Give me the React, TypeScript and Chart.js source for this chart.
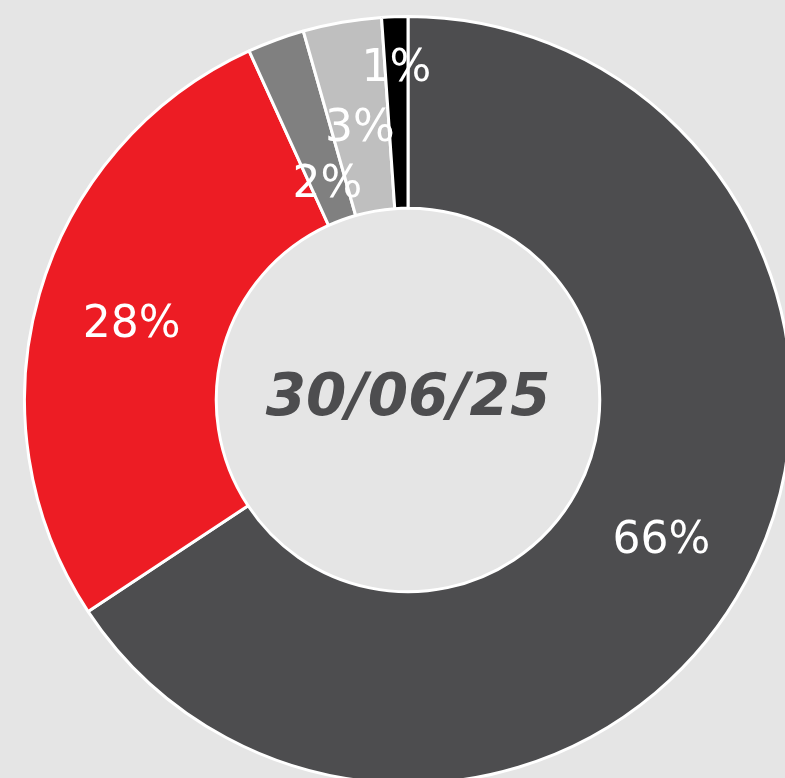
import React, { useEffect, useRef } from "react";
import { Chart, registerables } from "chart.js";

Chart.register(...registerables);

const categories = ["A", "B", "C", "D", "E"];
const values = [65.7, 27.5, 2.4, 3.3, 1.1];
const labels = ["66%", "28%", "2%", "3%", "1%"];
const colors = ["#4d4d4f", "#ed1c24", "#808080", "#bfbfbf", "#000000"];
const centerText = "30/06/25";

const labelRadiusFactor = [0.5, 0.5, 0.22, 0.46, 0.75];

const labelPlugin = {
  id: "sliceLabels",
  afterDatasetsDraw(chart: any) {
    const { ctx } = chart;
    const meta = chart.getDatasetMeta(0);
    ctx.save();
    ctx.fillStyle = "#ffffff";
    ctx.font = "44px 'DejaVu Sans', sans-serif";
    ctx.textAlign = "center";
    ctx.textBaseline = "middle";
    meta.data.forEach((arc: any, i: number) => {
      const p = arc.getProps(["startAngle", "endAngle", "innerRadius", "outerRadius", "x", "y"], true);
      const mid = (p.startAngle + p.endAngle) / 2;
      const r = p.innerRadius + (p.outerRadius - p.innerRadius) * labelRadiusFactor[i];
      ctx.fillText(labels[i], p.x + Math.cos(mid) * r, p.y + Math.sin(mid) * r + 5);
    });
    const a0 = meta.data[0];
    ctx.fillStyle = "#4d4d4f";
    ctx.font = "italic bold 58px 'DejaVu Sans', sans-serif";
    ctx.fillText(centerText, a0.x, a0.y);
    ctx.restore();
  },
};

export default function App() {
  const ref = useRef<HTMLCanvasElement>(null);
  useEffect(() => {
    const chart = new Chart(ref.current!, {
      type: "doughnut",
      data: {
        labels: categories,
        datasets: [
          {
            data: values,
            backgroundColor: colors,
            borderColor: "#ffffff",
            borderWidth: 3,
          },
        ],
      },
      options: {
        animation: false,
        responsive: false,
        cutout: "50%",
        plugins: { legend: { display: false }, tooltip: { enabled: false } },
      },
      plugins: [labelPlugin],
    });
    return () => chart.destroy();
  }, []);
  return (
    <div
      style={{
        position: "fixed",
        left: 0,
        top: 0,
        width: 785,
        height: 778,
        overflow: "hidden",
        background: "#e5e5e5",
      }}
    >
      <canvas
        ref={ref}
        width={770}
        height={770}
        style={{ position: "absolute", left: 23, top: 15, width: 770, height: 770 }}
      />
    </div>
  );
}
